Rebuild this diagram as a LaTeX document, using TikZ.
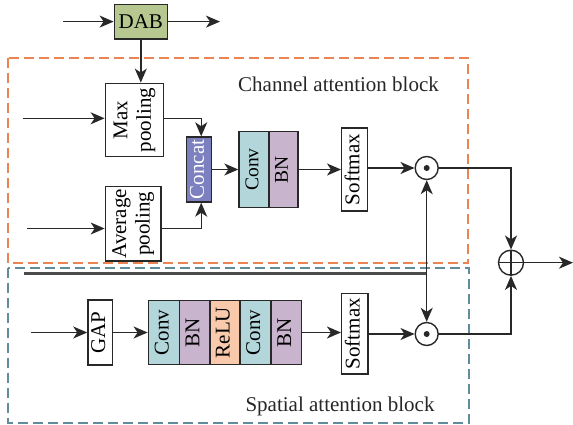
\documentclass[tikz,border=0pt]{standalone}
\usepackage{fontspec}
\setmainfont{Liberation Serif}
\usetikzlibrary{arrows.meta,calc}

\definecolor{dabgreen}{RGB}{182,200,144}
\definecolor{concatblue}{RGB}{124,128,190}
\definecolor{convteal}{RGB}{178,214,217}
\definecolor{bnmauve}{RGB}{200,180,205}
\definecolor{relupeach}{RGB}{248,201,170}
\definecolor{chanorange}{RGB}{234,132,82}
\definecolor{spatblue}{RGB}{96,140,155}
\definecolor{linegray}{RGB}{40,40,40}

\newcommand{\vtext}[1]{\rotatebox{90}{\begin{tabular}{@{}c@{}}#1\end{tabular}}}

\tikzset{
  flowtip/.tip={Stealth[length=14pt,width=12pt,inset=4pt]},
  box/.style={draw=linegray, line width=1.4pt, rectangle, inner sep=0pt,
    font=\fontsize{21}{23.5}\selectfont},
  smallbox/.style={box, font=\fontsize{19.5}{22}\selectfont},
  flow/.style={line width=1.4pt, draw=linegray, -flowtip},
  bothflow/.style={line width=1.4pt, draw=linegray, flowtip-flowtip},
  opcirc/.style={draw=linegray, line width=1.4pt, circle, inner sep=0pt},
  regionbox/.style={line width=2pt, dash pattern=on 10pt off 5pt},
  caption/.style={font=\fontsize{21}{24}\selectfont, text=black!85}
}

\begin{document}
\begin{tikzpicture}[x=1pt, y=-1pt]
  \useasboundingbox (0,0) rectangle (573,425);

  % dashed regions
  \draw[regionbox, chanorange] (8.3,57.7) rectangle (468,263.3);
  \draw[regionbox, spatblue] (8.3,267.7) rectangle (469.3,422.7);
  \node[caption] (chancap) at (338.5,84) {Channel attention block};
  \node[caption] (spatcap) at (340,406) {Spatial attention block};

  % DAB block
  \node[box, fill=dabgreen, minimum width=53pt, minimum height=34.7pt] (dab) at (140.8,21.6) {DAB};
  \coordinate (dabin) at (63,21.6);
  \coordinate (dabout) at (220,21.6);

  % channel branch
  \node[box, minimum width=58pt, minimum height=73.4pt] (maxp) at (134.3,120) {\vtext{Max\\pooling}};
  \node[box, minimum width=55.7pt, minimum height=74.3pt] (avgp) at (133.2,223.8) {\vtext{Average\\pooling}};
  \node[box, fill=concatblue, text=white, minimum width=25pt, minimum height=65pt] (concat) at (199.2,169.5) {\vtext{Concat}};
  \node[smallbox, fill=convteal, minimum width=30pt, minimum height=76.3pt] (conva) at (254,169.5) {\vtext{Conv}};
  \node[smallbox, fill=bnmauve, minimum width=29pt, minimum height=76.3pt] (bna) at (283.5,169.5) {\vtext{BN}};
  \node[box, minimum width=26pt, minimum height=83pt] (sma) at (354.7,169.5) {\vtext{Softmax}};
  \node[opcirc, minimum size=23pt] (odota) at (426.7,168) {};
  \fill[linegray] (odota) circle (3pt);

  \coordinate (inmax) at (22.7,118.3);
  \coordinate (inavg) at (27.3,228.5);

  % sum node
  \node[opcirc, minimum size=25pt,
    path picture={\draw[linegray, line width=1.4pt]
      (path picture bounding box.north) -- (path picture bounding box.south)
      (path picture bounding box.west) -- (path picture bounding box.east);}]
    (sum) at (511,262.7) {};
  \coordinate (out) at (573,262.7);

  % spatial branch
  \node[box, minimum width=24.7pt, minimum height=65pt] (gap) at (100.3,332.5) {\vtext{GAP}};
  \node[box, fill=convteal, minimum width=31pt, minimum height=64.5pt] (convb) at (163.8,332.5) {\vtext{Conv}};
  \node[box, fill=bnmauve, minimum width=30.7pt, minimum height=64.5pt] (bnb) at (194.65,332.5) {\vtext{BN}};
  \node[box, fill=relupeach, minimum width=30pt, minimum height=64.5pt] (relu) at (225,332.5) {\vtext{ReLU}};
  \node[box, fill=convteal, minimum width=31pt, minimum height=64.5pt] (convc) at (255.5,332.5) {\vtext{Conv}};
  \node[box, fill=bnmauve, minimum width=30.7pt, minimum height=64.5pt] (bnc) at (286.35,332.5) {\vtext{BN}};
  \node[box, minimum width=26.3pt, minimum height=80.7pt] (smb) at (354.8,333.7) {\vtext{Softmax}};
  \node[opcirc, minimum size=23pt] (odotb) at (426.7,334) {};
  \fill[linegray] (odotb) circle (3pt);

  \coordinate (ingap) at (30.7,332.5);
  \coordinate (feed) at (24,273.5);

  % connectors: DAB
  \draw[flow] (dabin) -- (dab.west);
  \draw[flow] (dab.east) -- (dabout);
  \draw[flow] (dab.south) -- (dab.south |- maxp.north);

  % connectors: channel branch
  \draw[flow] (inmax) -- (inmax -| maxp.west);
  \draw[flow] (inmax -| maxp.east) -| ([xshift=2pt]concat.north);
  \draw[flow] (inavg) -- (inavg -| avgp.west);
  \draw[flow] (inavg -| avgp.east) -| ([xshift=2pt]concat.south);
  \draw[flow] (concat.east) -- (conva.west);
  \draw[flow] (bna.east) -- (sma.west);
  \draw[flow] (sma.east |- odota) -- (odota.west);
  \draw[flow] (odota.east) -| (sum.north);
  \draw[flow] (sum.east) -- (out);

  % shared feature line into both products
  \draw[line width=2.4pt, draw=black!70] (feed) -- (feed -| odota);
  \draw[bothflow] (odota.south) -- (odotb.north);

  % connectors: spatial branch
  \draw[flow] (ingap) -- (gap.west);
  \draw[flow] (gap.east) -- (convb.west);
  \draw[flow] (bnc.east) -- (bnc.east -| smb.west);
  \draw[flow] (smb.east |- odotb) -- (odotb.west);
  \draw[flow] (odotb.east) -| (sum.south);
\end{tikzpicture}
\end{document}
